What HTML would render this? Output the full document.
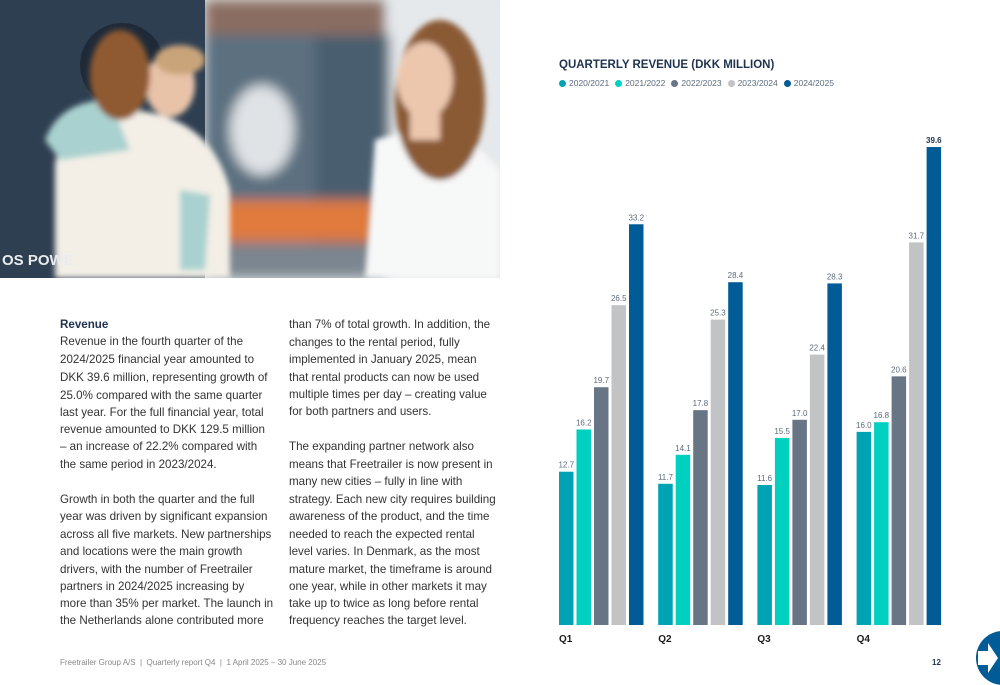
<!DOCTYPE html>
<html><head><meta charset="utf-8"><style>
body{margin:0;width:1000px;height:685px;background:#fff;position:relative;overflow:hidden;font-family:"Liberation Sans",sans-serif}
.l{position:absolute;font-size:11.6px;color:#333;white-space:nowrap;line-height:14px}
</style></head><body>
<svg style="position:absolute;left:0;top:0" width="500" height="278">
<defs><filter id="b"><feGaussianBlur stdDeviation="3"/></filter><filter id="b2"><feGaussianBlur stdDeviation="6"/></filter></defs>
<rect width="500" height="278" fill="#e4e8ea"/>
<g filter="url(#b2)">
<rect x="205" y="0" width="180" height="35" fill="#8a6d62"/>
<rect x="205" y="35" width="185" height="210" fill="#5b6f80"/>
<rect x="315" y="35" width="75" height="210" fill="#4a5e70"/>
<rect x="205" y="200" width="170" height="42" fill="#e07a3c"/>
<rect x="205" y="245" width="180" height="33" fill="#7c8690"/>
<rect x="390" y="0" width="110" height="278" fill="#e6e9ec"/>
<ellipse cx="262" cy="130" rx="32" ry="45" fill="#dfe3e6"/>
</g>
<rect x="0" y="0" width="205" height="278" fill="#2f3f52"/>
<circle cx="122" cy="65" r="42" fill="#1f2a38"/>
<g filter="url(#b)">
<path d="M55 165 Q60 120 130 110 Q210 115 230 190 L230 278 L55 278Z" fill="#f3efe6"/>
<path d="M45 140 Q60 100 110 100 L130 150 L60 160Z" fill="#a9d1cf"/>
<path d="M180 190 L210 195 L205 270 L180 270Z" fill="#a9d1cf"/>
<ellipse cx="170" cy="85" rx="25" ry="32" fill="#e8c3a8"/>
<ellipse cx="180" cy="60" rx="25" ry="15" fill="#c9a47a"/>
<ellipse cx="120" cy="75" rx="30" ry="45" fill="#8f5a30"/>
<path d="M375 140 Q420 125 470 140 L500 170 L500 278 L365 278Z" fill="#f7f8f8"/>
<ellipse cx="440" cy="100" rx="45" ry="80" fill="#8a5a34"/>
<ellipse cx="425" cy="80" rx="28" ry="38" fill="#ecc7ae"/>
<rect x="410" y="110" width="30" height="30" fill="#ecc7ae"/>
</g>
<text x="2" y="265" font-size="15" font-weight="bold" fill="#e8ecef" font-family="Liberation Sans">OS POWE</text>
</svg>

<div class="l" style="left:60px;top:318px;font-weight:bold;color:#1f3350">Revenue</div>
<div>
<div class="l" style="left:60px;top:335px">Revenue in the fourth quarter of the</div>
<div class="l" style="left:60px;top:353px">2024/2025 financial year amounted to</div>
<div class="l" style="left:60px;top:371px">DKK 39.6 million, representing growth of</div>
<div class="l" style="left:60px;top:389px">25.0% compared with the same quarter</div>
<div class="l" style="left:60px;top:406px">last year. For the full financial year, total</div>
<div class="l" style="left:60px;top:423px">revenue amounted to DKK 129.5 million</div>
<div class="l" style="left:60px;top:440px">– an increase of 22.2% compared with</div>
<div class="l" style="left:60px;top:458px">the same period in 2023/2024.</div>
<div class="l" style="left:60px;top:493px">Growth in both the quarter and the full</div>
<div class="l" style="left:60px;top:510px">year was driven by significant expansion</div>
<div class="l" style="left:60px;top:528px">across all five markets. New partnerships</div>
<div class="l" style="left:60px;top:545px">and locations were the main growth</div>
<div class="l" style="left:60px;top:563px">drivers, with the number of Freetrailer</div>
<div class="l" style="left:60px;top:580px">partners in 2024/2025 increasing by</div>
<div class="l" style="left:60px;top:597px">more than 35% per market. The launch in</div>
<div class="l" style="left:60px;top:614px">the Netherlands alone contributed more</div>
</div>
<div>
<div class="l" style="left:289px;top:318px">than 7% of total growth. In addition, the</div>
<div class="l" style="left:289px;top:336px">changes to the rental period, fully</div>
<div class="l" style="left:289px;top:353px">implemented in January 2025, mean</div>
<div class="l" style="left:289px;top:371px">that rental products can now be used</div>
<div class="l" style="left:289px;top:388px">multiple times per day – creating value</div>
<div class="l" style="left:289px;top:405px">for both partners and users.</div>
<div class="l" style="left:289px;top:440px">The expanding partner network also</div>
<div class="l" style="left:289px;top:458px">means that Freetrailer is now present in</div>
<div class="l" style="left:289px;top:475px">many new cities – fully in line with</div>
<div class="l" style="left:289px;top:493px">strategy. Each new city requires building</div>
<div class="l" style="left:289px;top:510px">awareness of the product, and the time</div>
<div class="l" style="left:289px;top:528px">needed to reach the expected rental</div>
<div class="l" style="left:289px;top:545px">level varies. In Denmark, as the most</div>
<div class="l" style="left:289px;top:563px">mature market, the timeframe is around</div>
<div class="l" style="left:289px;top:580px">one year, while in other markets it may</div>
<div class="l" style="left:289px;top:597px">take up to twice as long before rental</div>
<div class="l" style="left:289px;top:614px">frequency reaches the target level.</div>
</div>

<div class="l" style="left:559px;top:58px;font-size:11.5px;font-weight:bold;color:#1f3350">QUARTERLY REVENUE (DKK MILLION)</div>
<div id="legend" style="position:absolute;left:559px;top:78px;font-size:8.5px;color:#5b6b7d;white-space:nowrap"></div>
<svg id="chart" style="position:absolute;left:0;top:0" width="1000" height="685"></svg>

<div class="l" style="left:60px;top:656px;font-size:8px;color:#888">Freetrailer Group A/S &nbsp;|&nbsp; Quarterly report Q4 &nbsp;|&nbsp; 1 April 2025 – 30 June 2025</div>
<div class="l" style="left:932px;top:656px;font-size:8px;font-weight:bold;color:#1f3350">12</div>
<svg style="position:absolute;left:976px;top:631px" width="24" height="54">
<circle cx="27" cy="27" r="27" fill="#005b96"/>
<path d="M2 20 L12 20 L12 12 L22 27 L12 42 L12 34 L2 34Z" fill="#fff"/>
</svg>

<script>
const quarters=["Q1","Q2","Q3","Q4"];
const seriesNames=["2020/2021","2021/2022","2022/2023","2023/2024","2024/2025"];
const s2020=[12.7,11.7,11.6,16.0];
const s2021=[16.2,14.1,15.5,16.8];
const s2022=[19.7,17.8,17.0,20.6];
const s2023=[26.5,25.3,22.4,31.7];
const s2024=[33.2,28.4,28.3,39.6];
const series=[s2020,s2021,s2022,s2023,s2024];
const colors=["#00a3b4","#00d0c0","#687585","#c2c3c5","#005b96"];
const ns="http://www.w3.org/2000/svg";
const svg=document.getElementById('chart');
const base=625, pxPer=12.07;
const y=v=>base-v*pxPer;
const gx=i=>559+i*99.2;
const bx=(i,s)=>gx(i)+s*17.5;
const lg=document.getElementById('legend');
seriesNames.forEach((n,s)=>{
 const sp=document.createElement('span');
 
 
 sp.style.marginRight='6px';
 sp.innerHTML='<span style="display:inline-block;width:7px;height:7px;border-radius:50%;background:'+colors[s]+';margin-right:3px;vertical-align:-1px"></span>'+n;
 lg.appendChild(sp);
});
quarters.forEach((q,i)=>{
 series.forEach((arr,s)=>{
  const v=arr[i];
  const r=document.createElementNS(ns,'rect');
  
  
  r.setAttribute('x',bx(i,s));r.setAttribute('y',y(v));
  r.setAttribute('width',14.5);r.setAttribute('height',base-y(v));
  r.setAttribute('fill',colors[s]);
  svg.appendChild(r);
  const t=document.createElementNS(ns,'text');
  
  
  t.setAttribute('x',bx(i,s)+7.25);t.setAttribute('y',y(v)-4);
  t.setAttribute('text-anchor','middle');t.setAttribute('font-size','8');
  t.setAttribute('font-family','Liberation Sans');
  const isMax=(i===3&&s===4);
  t.setAttribute('fill',isMax?'#1f3350':'#5b6b7d');
  if(isMax)t.setAttribute('font-weight','bold');
  t.textContent=v.toFixed(1);
  svg.appendChild(t);
 });
 const ql=document.createElementNS(ns,'text');
 
 
 ql.setAttribute('x',gx(i));ql.setAttribute('y',642);
 ql.setAttribute('font-size','10');ql.setAttribute('font-weight','bold');
 ql.setAttribute('font-family','Liberation Sans');ql.setAttribute('fill','#1a1a1a');
 ql.textContent=q;
 svg.appendChild(ql);
});
</script>
</body></html>
